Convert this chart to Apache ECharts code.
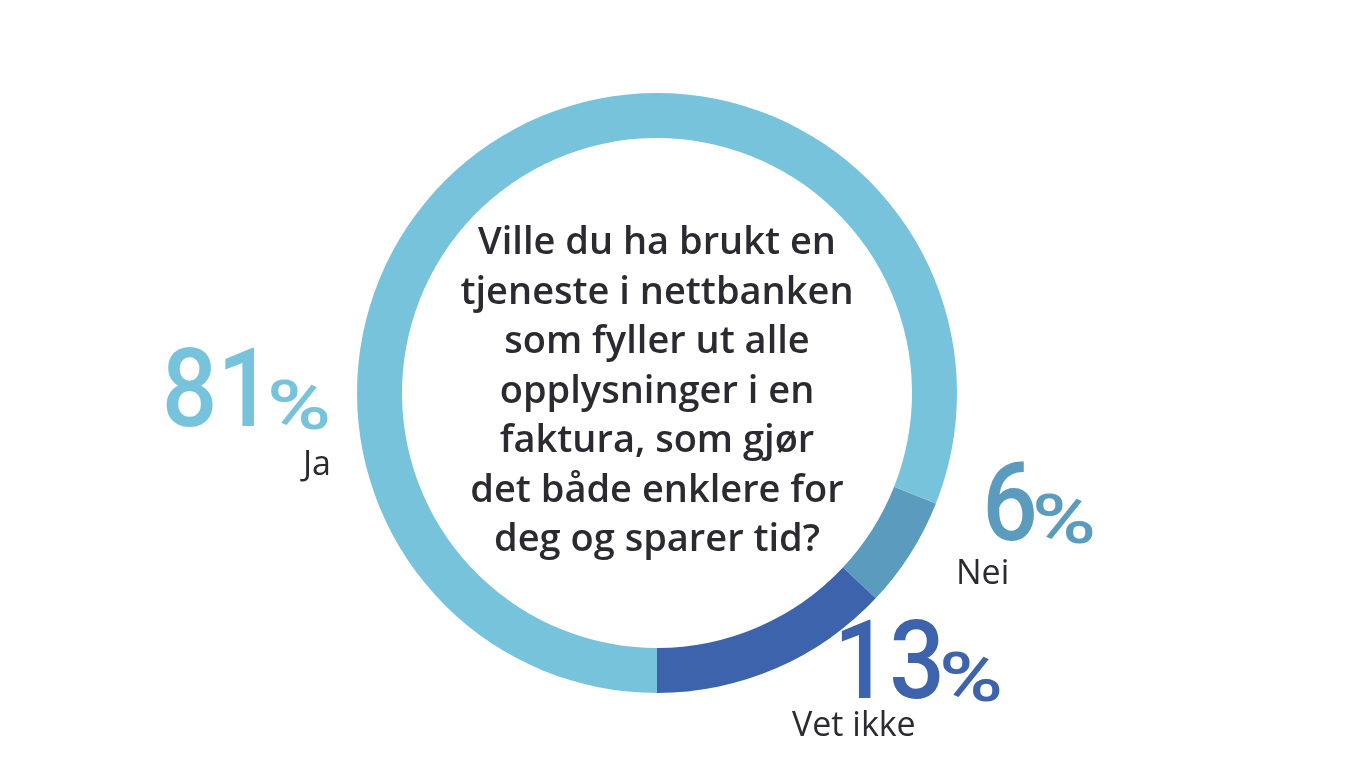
<!DOCTYPE html>
<html>
<head>
<meta charset="utf-8">
<script src="https://cdn.jsdelivr.net/npm/echarts@6/dist/echarts.min.js"></script>
<style>
  html, body { margin: 0; padding: 0; background: #fff; }
  #chart { width: 1366px; height: 768px; }
</style>
</head>
<body>
<div id="chart"></div>
<script>
// answers, in drawing order (clockwise from just past 3 o'clock)
const categories = ['Nei', 'Vet ikke', 'Ja'];
const values = [6, 13, 81];
const questionLines = [
  'Ville du ha brukt en',
  'tjeneste i nettbanken',
  'som fyller ut alle',
  'opplysninger i en',
  'faktura, som gjør',
  'det både enklere for',
  'deg og sparer tid?'
];

const colors = { 'Ja': '#78c3dc', 'Nei': '#5a9bbe', 'Vet ikke': '#3d63ad' };
const textColor = '#2b2a30';

// left edge of the "%" sign and the baseline of the big number
const labelPos = {
  'Ja':       { x: 269, y: 428 },
  'Nei':      { x: 1034, y: 542 },
  'Vet ikke': { x: 941, y: 700 }
};
const namePos = {
  'Ja':       { x: 331, y: 482, align: 'right' },
  'Nei':      { x: 956, y: 591, align: 'left' },
  'Vet ikke': { x: 792, y: 743, align: 'left' }
};

const chart = echarts.init(document.getElementById('chart'));

const numSize = 110;
const pctSize = 68;

const graphics = [];
categories.forEach((name, i) => {
  const lp = labelPos[name];
  graphics.push({
    type: 'text',
    x: lp.x + 4, y: lp.y + 25,
    scaleX: 0.89,
    style: {
      text: String(values[i]),
      align: 'right',
      verticalAlign: 'bottom',
      fontFamily: 'Roboto',
      fontWeight: 500,
      fontSize: numSize,
      lineHeight: numSize,
      fill: colors[name]
    }
  });
  graphics.push({
    type: 'text',
    x: lp.x - 2, y: lp.y + 18,
    scaleX: 1.28,
    style: {
      text: '%',
      align: 'left',
      verticalAlign: 'bottom',
      fontFamily: 'Roboto',
      fontWeight: 500,
      fontSize: pctSize,
      lineHeight: pctSize,
      fill: colors[name]
    }
  });
  const np = namePos[name];
  graphics.push({
    type: 'text',
    x: np.x, y: np.y,
    style: {
      text: name,
      align: np.align,
      verticalAlign: 'bottom',
      fontFamily: 'Open Sans',
      fontSize: 34,
      fill: textColor
    }
  });
});

graphics.push({
  type: 'text',
  x: 657, y: 392,
  style: {
    text: questionLines.join('\n'),
    align: 'center',
    verticalAlign: 'middle',
    fontFamily: 'Open Sans',
    fontWeight: 600,
    fontSize: 38,
    lineHeight: 49.5,
    fill: textColor
  }
});

const option = {
  animation: false,
  series: [
    {
      type: 'pie',
      center: [657, 393],
      radius: [255, 300],
      startAngle: -21.6,
      clockwise: true,
      silent: true,
      label: { show: false },
      labelLine: { show: false },
      data: categories.map((name, i) => ({
        name: name,
        value: values[i],
        itemStyle: { color: colors[name] }
      }))
    }
  ],
  graphic: graphics
};

chart.setOption(option);
</script>
</body>
</html>
